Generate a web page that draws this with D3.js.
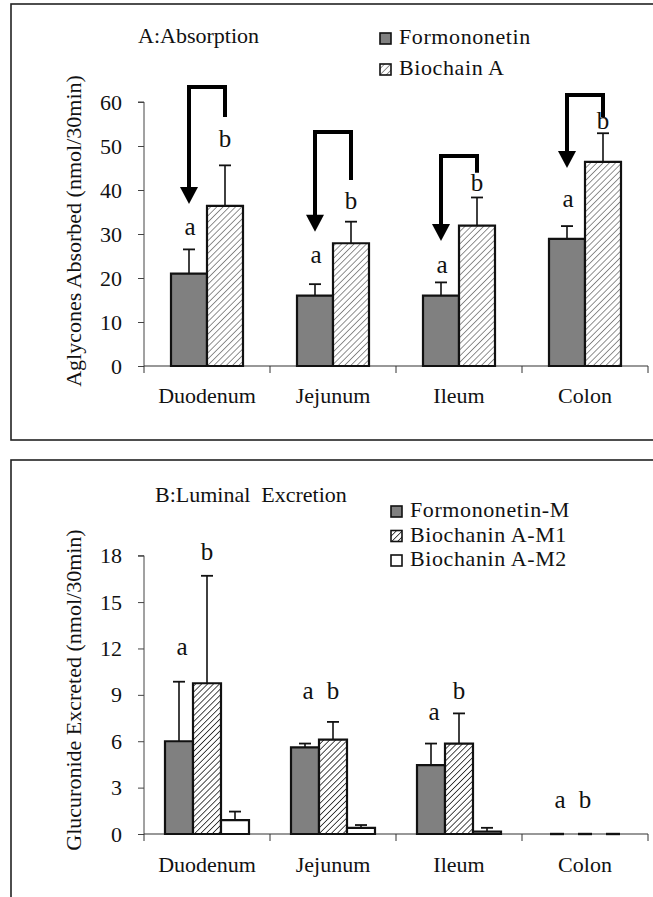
<!DOCTYPE html>
<html><head><meta charset="utf-8">
<script src="https://cdn.jsdelivr.net/npm/d3@7"></script>
<style>body{margin:0;background:#fff}svg{display:block}svg text{font-family:'Liberation Serif','DejaVu Serif',serif !important;fill:#111}</style>
</head><body>
<svg id="c" width="653" height="897" font-family="Liberation Serif"></svg>
<script>
// ---------- data ----------
const categories = ["Duodenum","Jejunum","Ileum","Colon"];
// Panel A
const seriesA = ["Formononetin","Biochain A"];
const formononetin = [21.0,16.0,16.0,28.9];
const formononetinErr = [26.5,18.6,19.0,31.8];
const biochaninA = [36.4,27.9,31.9,46.4];
const biochaninAErr = [45.6,32.8,38.3,52.9];
const lettersA_a = [29.8,23.4,21.1,36.1];   // letter baselines (value units)
const lettersA_b = [49.8,35.7,39.8,53.9];
const arrowTop = [63.4,53.2,47.7,61.6];
const arrowTip = [36.8,30.5,28.4,45.0];
const arrowRightEnd = [56.6,42.3,43.9,56.6];
const ticksA = [0,10,20,30,40,50,60];
// Panel B
const seriesB = ["Formononetin-M","Biochanin A-M1","Biochanin A-M2"];
const formononetinM = [6.0,5.6,4.45,0];
const formononetinMErr = [9.85,5.85,5.85,0];
const biochaninM1 = [9.75,6.1,5.85,0];
const biochaninM1Err = [16.7,7.25,7.8,0];
const biochaninM2 = [0.9,0.4,0.15,0];
const biochaninM2Err = [1.45,0.58,0.4,0];
const lettersB_a = [11.6,8.75,7.4,1.65];
const lettersB_b = [17.7,8.75,8.75,1.7];
const ticksB = [0,3,6,9,12,15,18];

const FONT = "Liberation Serif";
const svg = d3.select("#c");
const defs = svg.append("defs");
function hatch(id, color, w, gap){
  const p = defs.append("pattern").attr("id",id).attr("patternUnits","userSpaceOnUse")
    .attr("width",gap).attr("height",gap).attr("patternTransform","rotate(45)");
  p.append("rect").attr("width",gap).attr("height",gap).attr("fill","#fff");
  p.append("line").attr("x1",0).attr("y1",0).attr("x2",0).attr("y2",gap).attr("stroke",color).attr("stroke-width",w);
}
hatch("hA","#555",1.3,4.4);
hatch("hB","#111",1.5,4.2);

function panel(cfg){
  const g = svg.append("g").attr("font-family",FONT);
  g.append("rect").attr("x",cfg.frame[0]).attr("y",cfg.frame[1]).attr("width",cfg.frame[2]).attr("height",cfg.frame[3])
    .attr("fill","none").attr("stroke","#222").attr("stroke-width",1.6);
  const x0 = d3.scaleBand().domain(categories).range([144,648]).padding(0);
  const x1 = d3.scaleBand().domain(cfg.series).range([0,x0.bandwidth()]).paddingInner(0).paddingOuter(0.75);
  const y = d3.scaleLinear().domain(cfg.domain).range(cfg.yr);
  const ya = g.append("g").attr("transform","translate(144,0)")
    .call(d3.axisLeft(y).tickValues(cfg.ticks).tickSize(6).tickPadding(16).tickFormat(d3.format("d")));
  ya.attr("font-family",FONT);
  ya.select(".domain").attr("stroke","#444").attr("d",`M-6,${y(cfg.domain[1])}H0V${y(0)}`);
  ya.selectAll(".tick line").attr("stroke","#444");
  ya.selectAll("text").attr("font-size",22).attr("fill","#111");
  const xa = g.append("g").attr("transform",`translate(0,${y(0)})`)
    .call(d3.axisBottom(x0).tickSize(0).tickPadding(0));
  xa.attr("font-family",FONT);
  xa.select(".domain").remove();
  xa.selectAll(".tick text").attr("y",cfg.catDy).attr("dy",0).attr("font-size",22).attr("fill","#111");
  g.append("line").attr("x1",144).attr("x2",648).attr("y1",y(0)).attr("y2",y(0)).attr("stroke","#333").attr("stroke-width",1.2);
  const bounds = categories.map(c=>x0(c)).concat([x0.range()[1]]);
  g.selectAll(".xt").data(bounds).join("line").attr("x1",d=>d).attr("x2",d=>d)
    .attr("y1",y(0)).attr("y2",y(0)+7).attr("stroke","#333");
  cfg.series.forEach((s,si)=>{
    const vals = cfg.values[si], errs = cfg.errs[si];
    categories.forEach((c,ci)=>{
      const bx = x0(c)+x1(s), bw = x1.bandwidth(), cx = bx+bw/2;
      if(errs[ci]>vals[ci]){
        g.append("line").attr("x1",cx).attr("x2",cx).attr("y1",y(vals[ci])).attr("y2",y(errs[ci])).attr("stroke","#111").attr("stroke-width",1.6);
        g.append("line").attr("x1",cx-6).attr("x2",cx+6).attr("y1",y(errs[ci])).attr("y2",y(errs[ci])).attr("stroke","#111").attr("stroke-width",1.8);
      }
      if(vals[ci]>0){
        g.append("path").attr("d",`M${bx},${y(0)}V${y(vals[ci])}H${bx+bw}V${y(0)}Z`)
          .attr("fill",cfg.fills[si]).attr("stroke","#111").attr("stroke-width",2.2);
      } else {
        // zero-height bar: only its (short) outline shows on the baseline
        g.append("line").attr("x1",bx+7).attr("x2",bx+bw-7).attr("y1",y(0)).attr("y2",y(0))
          .attr("stroke","#111").attr("stroke-width",2.4);
      }
    });
  });
  categories.forEach((c,ci)=>{
    g.append("text").attr("x",x0(c)+x1(cfg.series[0])+x1.bandwidth()/2+cfg.aDx).attr("y",y(cfg.la[ci]))
      .attr("text-anchor","middle").attr("font-size",25).text("a");
    g.append("text").attr("x",x0(c)+x1(cfg.series[1])+x1.bandwidth()/2).attr("y",y(cfg.lb[ci]))
      .attr("text-anchor","middle").attr("font-size",25).text("b");
  });
  g.append("text").attr("transform",`translate(81,${cfg.titleY}) rotate(-90)`).attr("text-anchor","middle")
    .attr("font-size",22).text(cfg.ytitle);
  g.append("text").attr("x",cfg.tpos[0]).attr("y",cfg.tpos[1]).attr("font-size",22).attr("xml:space","preserve").style("white-space","pre").text(cfg.title);
  cfg.series.forEach((s,si)=>{
    const ly = cfg.leg[1]+si*cfg.leg[2];
    g.append("rect").attr("x",cfg.leg[0]).attr("y",ly-11).attr("width",11).attr("height",11)
      .attr("fill",cfg.fills[si]).attr("stroke","#111").attr("stroke-width",1.6);
    g.append("text").attr("x",cfg.leg[0]+19).attr("y",ly).attr("font-size",22).attr("letter-spacing",0.6).text(s);
  });
  return {x0,x1,y,g};
}

const A = panel({series:seriesA, values:[formononetin,biochaninA], errs:[formononetinErr,biochaninAErr],
  fills:["#808080","url(#hA)"], domain:[0,60], yr:[366,102], ticks:ticksA, catDy:37, la:lettersA_a, lb:lettersA_b, aDx:1,
  ytitle:"Aglycones Absorbed (nmol/30min)", titleY:231, title:"A:Absorption", tpos:[138,43],
  leg:[380,44,31], frame:[11,4,700,436]});

categories.forEach((c,ci)=>{
  const xl = A.x0(c)+A.x1(seriesA[0])+A.x1.bandwidth()/2;
  const xr = A.x0(c)+A.x1(seriesA[1])+A.x1.bandwidth()/2;
  const yt = A.y(arrowTop[ci]), yTip = A.y(arrowTip[ci]), ye = A.y(arrowRightEnd[ci]);
  A.g.append("path").attr("d",`M${xl},${yTip-14}V${yt}H${xr}V${ye}`).attr("fill","none")
    .attr("stroke","#000").attr("stroke-width",4).attr("stroke-linejoin","miter");
  A.g.append("path").attr("d",`M${xl-9},${yTip-17}L${xl+9},${yTip-17}L${xl},${yTip}Z`).attr("fill","#000");
});

const B = panel({series:seriesB, values:[formononetinM,biochaninM1,biochaninM2], errs:[formononetinMErr,biochaninM1Err,biochaninM2Err],
  fills:["#808080","url(#hB)","#fff"], domain:[0,18], yr:[834,555.7], ticks:ticksB, catDy:38, la:lettersB_a, lb:lettersB_b, aDx:3,
  ytitle:"Glucuronide Excreted (nmol/30min)", titleY:690, title:"B:Luminal  Excretion", tpos:[155,502],
  leg:[391,517,24.5], frame:[11,460,700,500]});
</script>
</body></html>
